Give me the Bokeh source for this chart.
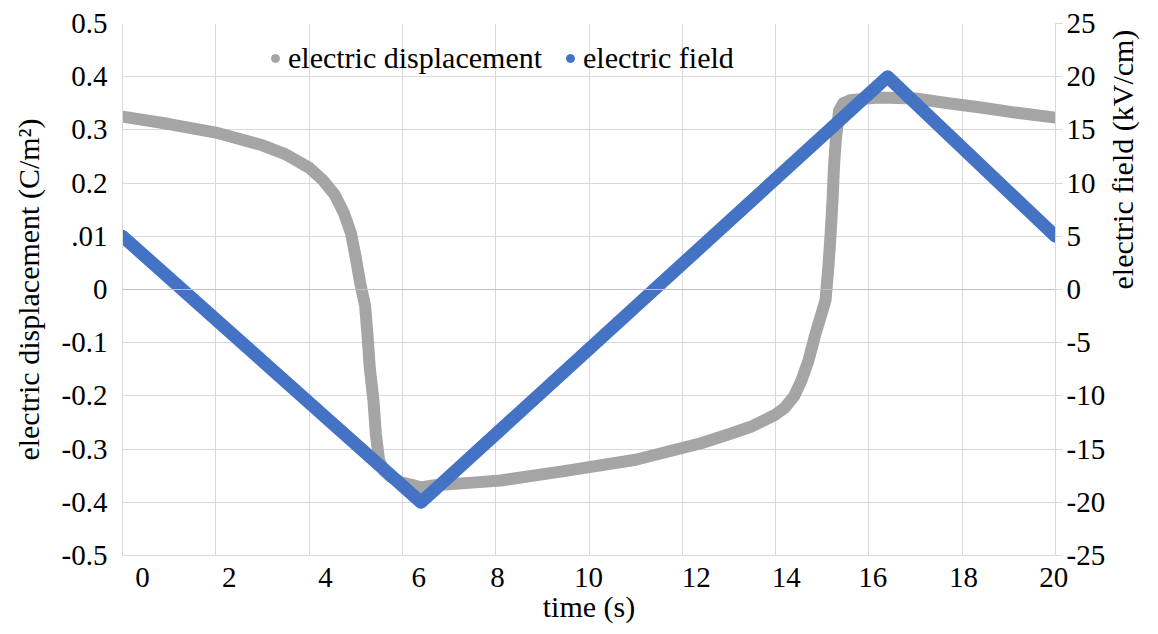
import math
from bokeh.plotting import figure
from bokeh.models import (Range1d, LinearAxis, FixedTicker, Legend, LegendItem, Span,
                          CustomJSTickFormatter)
from bokeh.embed import file_html
from bokeh.resources import INLINE

# ---- data ----
t_disp = [0.0, 1.0, 2.0, 3.0, 3.5, 4.0, 4.3, 4.55, 4.75, 4.9,
          5.0, 5.1, 5.2, 5.25, 5.3, 5.38, 5.43, 5.5, 5.6, 5.75,
          5.95, 6.2, 6.4, 6.7, 7.5, 8.1, 9.5, 11.0, 12.4, 13.0,
          13.5, 14.0, 14.2, 14.4, 14.55, 14.7, 14.85, 14.97, 15.07, 15.13,
          15.18, 15.22, 15.25, 15.29, 15.36, 15.45, 15.6, 16.2, 17.0, 17.7,
          18.4, 19.1, 20.0]
d_disp = [0.325, 0.311, 0.295, 0.271, 0.254, 0.229, 0.205, 0.178, 0.143, 0.105,
          0.060, 0.010, -0.030, -0.083, -0.147, -0.209, -0.271, -0.321, -0.340, -0.352,
          -0.362, -0.367, -0.372, -0.368, -0.363, -0.359, -0.341, -0.320, -0.289, -0.272,
          -0.257, -0.235, -0.222, -0.200, -0.172, -0.135, -0.085, -0.050, -0.020, 0.041,
          0.105, 0.167, 0.229, 0.280, 0.336, 0.350, 0.356, 0.361, 0.359, 0.350,
          0.342, 0.333, 0.323]

t_field = [0.0, 6.4, 16.4, 20.0]
e_field = [5.0, -20.0, 20.0, 5.0]

x_grid_ticks = [0, 2, 4, 6, 8, 10, 12, 14, 16, 18, 20]
x_tick_labels = ["0", "2", "4", "6", "8", "10", "12", "14", "16", "18", "20"]
x_label_pos = [0.43, 2.29, 4.35, 6.35, 8.04, 9.99, 12.30, 14.23, 16.08, 18.03, 19.96]

y_left_ticks = [-0.5, -0.4, -0.3, -0.2, -0.1, 0.0, 0.1, 0.2, 0.3, 0.4, 0.5]
y_left_labels = ["-0.5", "-0.4", "-0.3", "-0.2", "-0.1", "0", ".01", "0.2", "0.3", "0.4", "0.5"]
y_right_ticks = [-25, -20, -15, -10, -5, 0, 5, 10, 15, 20, 25]
y_right_labels = ["-25", "-20", "-15", "-10", "-5", "0", "5", "10", "15", "20", "25"]

series_names = ["electric displacement", "electric field"]
GRAY = "#A5A5A5"
BLUE = "#4472C4"
FONT = "'Liberation Serif', 'Times New Roman', serif"
GRID = "#D9D9D9"

LOOKUP = """
let best = -1, bd = 1e9;
for (let i = 0; i < tvals.length; i++) {
  const d = Math.abs(tvals[i] - tick);
  if (d < bd) { bd = d; best = i; }
}
return (best >= 0 && bd < 1e-6) ? tlabels[best] : "";
"""


def fmt(vals, labels):
    return CustomJSTickFormatter(args=dict(tvals=list(vals), tlabels=list(labels)), code=LOOKUP)


p = figure(width=1158, height=634, x_range=Range1d(0, 20), y_range=Range1d(-0.5, 0.5),
           output_backend="svg", toolbar_location=None,
           min_border_left=122, min_border_right=103, min_border_top=23, min_border_bottom=79)
p.outline_line_color = None
p.background_fill_color = "white"

# grids
p.xgrid.ticker = FixedTicker(ticks=x_grid_ticks)
p.ygrid.ticker = FixedTicker(ticks=y_left_ticks)
for g in (p.xgrid, p.ygrid):
    g.grid_line_color = GRID
    g.grid_line_width = 1

# bottom axis
xa = p.xaxis[0]
xa.ticker = FixedTicker(ticks=x_label_pos)
xa.formatter = fmt(x_label_pos, x_tick_labels)
xa.axis_label = "time (s)"
xa.axis_line_color = GRID
xa.major_tick_line_color = None
xa.major_tick_out = 0
xa.major_tick_in = 0
xa.minor_tick_line_color = None
xa.major_label_standoff = 12
xa.axis_label_standoff = 0

# left axis
ya = p.yaxis[0]
ya.ticker = FixedTicker(ticks=y_left_ticks)
ya.formatter = fmt(y_left_ticks, y_left_labels)
ya.axis_label = "electric displacement (C/m²)"
ya.axis_line_color = GRID
ya.major_tick_line_color = None
ya.major_tick_out = 0
ya.major_tick_in = 0
ya.minor_tick_line_color = None
ya.major_label_standoff = 15
ya.axis_label_standoff = 14

# right axis
p.extra_y_ranges = {"field": Range1d(-25, 25)}
ra = LinearAxis(y_range_name="field", ticker=FixedTicker(ticks=y_right_ticks),
                formatter=fmt(y_right_ticks, y_right_labels))
ra.axis_label = "electric field (kV/cm)"
ra.axis_line_color = GRID
ra.major_tick_line_color = GRID
ra.major_tick_out = 7
ra.major_tick_in = 0
ra.minor_tick_line_color = None
ra.major_label_standoff = 4
ra.axis_label_standoff = 14
if "axis_label_orientation" in LinearAxis.properties():
    ra.axis_label_orientation = math.pi / 2
p.add_layout(ra, "right")

for ax in (xa, ya, ra):
    ax.major_label_text_font = FONT
    ax.major_label_text_font_size = "29px"
    ax.major_label_text_color = "black"
    ax.axis_label_text_font = FONT
    ax.axis_label_text_font_size = "30px"
    ax.axis_label_text_font_style = "normal"
    ax.axis_label_text_color = "black"

# zero line
p.add_layout(Span(location=0, dimension="width", line_color="#BFBFBF", line_width=1))

# series
p.line(t_disp, d_disp, line_color=GRAY, line_width=12, line_join="round", line_cap="round")
p.line(t_field, e_field, y_range_name="field", line_color=BLUE, line_width=13,
       line_join="round", line_cap="round")

# legend proxies (invisible points, only used for the legend markers)
nan = float("nan")
lg_d = p.scatter(x=[nan], y=[nan], size=8, fill_color=GRAY, line_color=GRAY, marker="circle")
lg_e = p.scatter(x=[nan], y=[nan], size=8, fill_color=BLUE, line_color=BLUE, marker="circle")
legend = Legend(items=[LegendItem(label=series_names[0], renderers=[lg_d]),
                       LegendItem(label=series_names[1], renderers=[lg_e])],
                orientation="horizontal", location=(143, 480))
legend.label_text_font = FONT
legend.label_text_font_size = "30px"
legend.label_text_color = "black"
legend.glyph_width = 20
legend.glyph_height = 20
legend.label_standoff = 3
legend.spacing = 18
legend.padding = 0
legend.margin = 0
legend.border_line_color = None
legend.background_fill_alpha = 0
p.add_layout(legend, "center")

open("out.html", "w").write(file_html(p, INLINE))
